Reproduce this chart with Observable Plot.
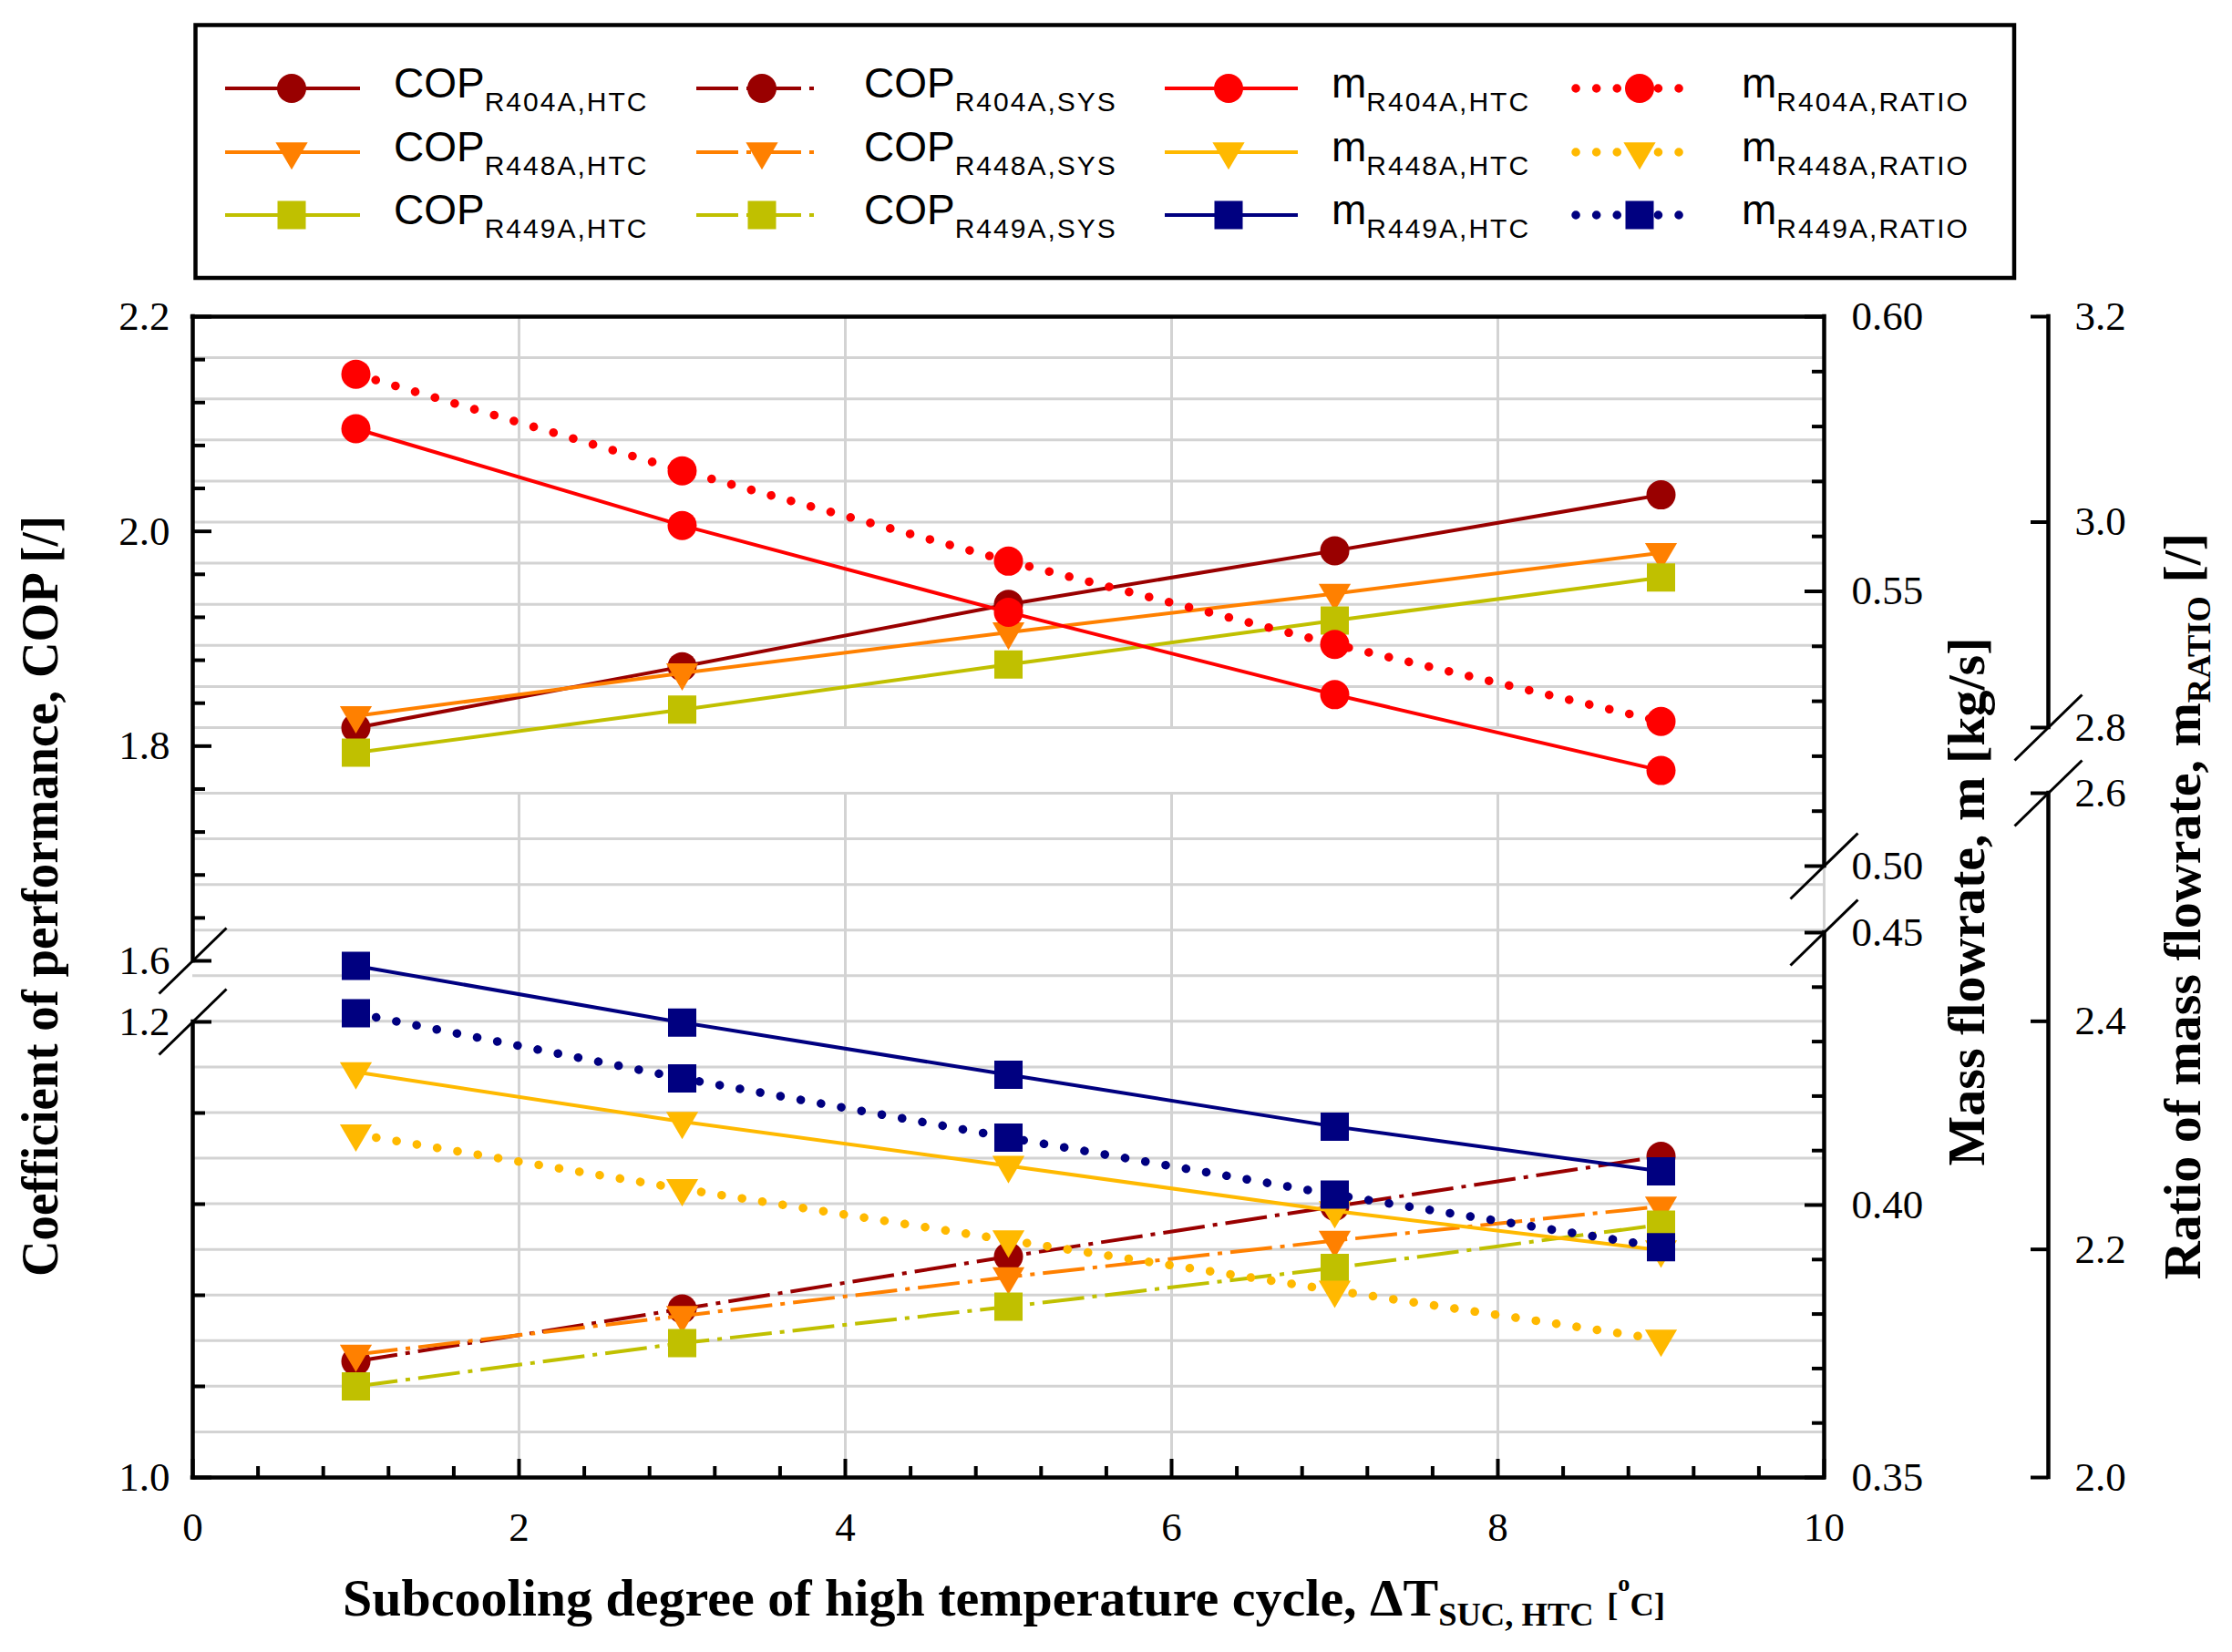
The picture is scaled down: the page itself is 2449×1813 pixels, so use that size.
<!DOCTYPE html>
<html>
<head>
<meta charset="utf-8">
<script src="https://cdn.jsdelivr.net/npm/d3@7"></script>
<script src="https://cdn.jsdelivr.net/npm/@observablehq/plot@0.6"></script>
<style>
  html, body { margin: 0; padding: 0; background: #ffffff; }
  #wrap { position: relative; width: 2449px; height: 1813px; overflow: hidden; background: #fff; }
  #legend { position: absolute; left: 0; top: 0; pointer-events: none; }
</style>
</head>
<body>
<div id="wrap"></div>
<script>
// ---------------- data ----------------
const subcooling = [1, 3, 5, 7, 9];

const copHTC_R404A = [1.817, 1.874, 1.932, 1.982, 2.034];
const copHTC_R448A = [1.828, 1.868, 1.906, 1.942, 1.980];
const copHTC_R449A = [1.794, 1.834, 1.876, 1.917, 1.957];

const copSYS_R404A = [1.051, 1.074, 1.097, 1.119, 1.141];
const copSYS_R448A = [1.054, 1.071, 1.088, 1.104, 1.119];
const copSYS_R449A = [1.040, 1.059, 1.075, 1.092, 1.111];

const mHTC_R404A = [0.5796, 0.5620, 0.5462, 0.5312, 0.5174];
const mHTC_R448A = [0.4244, 0.4153, 0.4072, 0.3989, 0.3917];
const mHTC_R449A = [0.4439, 0.4335, 0.4239, 0.4144, 0.4062];

const mRATIO_R404A = [3.144, 3.050, 2.962, 2.881, 2.806];
const mRATIO_R448A = [2.301, 2.253, 2.208, 2.164, 2.121];
const mRATIO_R449A = [2.407, 2.350, 2.298, 2.248, 2.202];

// tick labels
const xTickLabels = [0, 2, 4, 6, 8, 10];
const copTickLabels = [1.0, 1.2, 1.6, 1.8, 2.0, 2.2];
const massTickLabels = [0.35, 0.40, 0.45, 0.50, 0.55, 0.60];
const ratioTickLabels = [2.0, 2.2, 2.4, 2.6, 2.8, 3.0, 3.2];

// titles
const titleX = "Subcooling degree of high temperature cycle, \u0394T_{SUC, HTC} ~{[}^{o}~{C]}";
const titleCOP = "Coefficient of performance, COP [/]";
const titleMass = "Mass flowrate, m [kg/s]";
const titleRatio = "Ratio of mass flowrate, m_{RATIO} [/]";

// ---------------- layout ----------------
const W = 2449, H = 1813;
const ML = 211, MR = 448, MT = 347, MB = 192;
const FH = H - MT - MB;          // frame height (px)
const FW = W - ML - MR;          // frame width (px)
const ux = FW / 10;              // px per x unit
const xRatioAxis = 10 + 246 / ux; // third axis position in x units

// broken axes: value -> px above the frame bottom (piecewise linear)
const copV = d3.scaleLinear([1.0, 1.2, 1.6, 2.2], [0, 500, 567, FH]);
const massV = d3.scaleLinear([0.35, 0.45, 0.50, 0.60], [0, 598, 671, FH]);
const ratioV = d3.scaleLinear([2.0, 2.6, 2.8, 3.2], [0, 751, 823, FH]);

// ticks
const near = (a, list) => list.some(b => Math.abs(a - b) < 1e-6);
const copMinor = [...d3.range(0, 6).map(i => 1.0 + i * 0.04), ...d3.range(0, 16).map(i => 1.6 + i * 0.04)]
  .filter(d => !near(d, copTickLabels));
const massMinor = [...d3.range(0, 11).map(i => 0.35 + i * 0.01), ...d3.range(0, 11).map(i => 0.50 + i * 0.01)]
  .filter(d => !near(d, massTickLabels));
const xMinor = d3.range(1, 25).map(i => i * 0.4).filter(d => Math.abs(d / 2 - Math.round(d / 2)) > 1e-6);
const ratioGrid = [...d3.range(1, 16).map(i => 2.0 + i * 0.04), ...d3.range(0, 10).map(i => 2.8 + i * 0.04)];

// ---------------- styles ----------------
const COL = {
  darkred: "#990000", orange: "#ff8000", olive: "#c0c000",
  red: "#ff0000", amber: "#ffb900", navy: "#000080"
};
const triangleDown = {
  draw(context, size) {
    const r = Math.sqrt(size / Math.PI);
    const w = 1.1 * r, h = 1.88 * r;
    context.moveTo(-w, -0.36 * h);
    context.lineTo(w, -0.36 * h);
    context.lineTo(0, 0.64 * h);
    context.closePath();
  }
};
const SYM = {
  circle: {plot: "circle", d3: d3.symbolCircle, r: 16},
  tri: {plot: triangleDown, d3: triangleDown, r: 16},
  square: {plot: "square", d3: d3.symbolSquare, r: 17.5}
};
const LINE = {
  solid: {strokeWidth: 4, strokeDasharray: null, strokeLinecap: "butt"},
  dashdot: {strokeWidth: 4, strokeDasharray: "46,9,5,9", strokeLinecap: "butt"},
  dotted: {strokeWidth: 9.5, strokeDasharray: "0.1,22.5", strokeLinecap: "round"}
};

const series = [
  {main: "COP", sub: "R404A,HTC", values: copHTC_R404A, scale: copV, color: COL.darkred, line: "solid", sym: "circle", col: 0, row: 0},
  {main: "COP", sub: "R448A,HTC", values: copHTC_R448A, scale: copV, color: COL.orange, line: "solid", sym: "tri", col: 0, row: 1},
  {main: "COP", sub: "R449A,HTC", values: copHTC_R449A, scale: copV, color: COL.olive, line: "solid", sym: "square", col: 0, row: 2},
  {main: "COP", sub: "R404A,SYS", values: copSYS_R404A, scale: copV, color: COL.darkred, line: "dashdot", sym: "circle", col: 1, row: 0},
  {main: "COP", sub: "R448A,SYS", values: copSYS_R448A, scale: copV, color: COL.orange, line: "dashdot", sym: "tri", col: 1, row: 1},
  {main: "COP", sub: "R449A,SYS", values: copSYS_R449A, scale: copV, color: COL.olive, line: "dashdot", sym: "square", col: 1, row: 2},
  {main: "m", sub: "R404A,HTC", values: mHTC_R404A, scale: massV, color: COL.red, line: "solid", sym: "circle", col: 2, row: 0},
  {main: "m", sub: "R448A,HTC", values: mHTC_R448A, scale: massV, color: COL.amber, line: "solid", sym: "tri", col: 2, row: 1},
  {main: "m", sub: "R449A,HTC", values: mHTC_R449A, scale: massV, color: COL.navy, line: "solid", sym: "square", col: 2, row: 2},
  {main: "m", sub: "R404A,RATIO", values: mRATIO_R404A, scale: ratioV, color: COL.red, line: "dotted", sym: "circle", col: 3, row: 0},
  {main: "m", sub: "R448A,RATIO", values: mRATIO_R448A, scale: ratioV, color: COL.amber, line: "dotted", sym: "tri", col: 3, row: 1},
  {main: "m", sub: "R449A,RATIO", values: mRATIO_R449A, scale: ratioV, color: COL.navy, line: "dotted", sym: "square", col: 3, row: 2}
];

// ---------------- marks ----------------
const GRID = "#d3d3d3";
const AX = {stroke: "black", strokeWidth: 4.5, strokeLinecap: "square"};
const TK = {stroke: "black", strokeWidth: 4};
const SERIF = "'Liberation Serif', 'Times New Roman', serif";

const marks = [];

// grid
marks.push(Plot.ruleY(ratioGrid, {y: d => ratioV(d), stroke: GRID, strokeWidth: 3}));
const xGrid = xTickLabels.filter(d => d > 0 && d < 10);
marks.push(Plot.ruleX(xGrid, {x: d => d, y1: 0, y2: ratioV(2.6), stroke: GRID, strokeWidth: 3}));
marks.push(Plot.ruleX(xGrid, {x: d => d, y1: ratioV(2.8), y2: FH, stroke: GRID, strokeWidth: 3}));
marks.push(Plot.ruleX([10], {x: d => d, y1: massV(0.45), y2: massV(0.50), stroke: GRID, strokeWidth: 3}));

// frame / axes lines
marks.push(Plot.ruleY([0, FH], {y: d => d, ...AX}));
marks.push(Plot.ruleX([0], {x: d => d, y1: 0, y2: copV(1.2), ...AX}));
marks.push(Plot.ruleX([0], {x: d => d, y1: copV(1.6), y2: FH, ...AX}));
marks.push(Plot.ruleX([10], {x: d => d, y1: 0, y2: massV(0.45), ...AX}));
marks.push(Plot.ruleX([10], {x: d => d, y1: massV(0.50), y2: FH, ...AX}));
marks.push(Plot.ruleX([xRatioAxis], {x: d => d, y1: 0, y2: ratioV(2.6), ...AX}));
marks.push(Plot.ruleX([xRatioAxis], {x: d => d, y1: ratioV(2.8), y2: FH, ...AX}));

// ticks (inward)
marks.push(Plot.ruleY(copMinor, {y: d => copV(d), x1: 0, x2: 14 / ux, ...TK}));
marks.push(Plot.ruleY(copTickLabels, {y: d => copV(d), x1: 0, x2: 21 / ux, ...TK}));
marks.push(Plot.ruleY(massMinor, {y: d => massV(d), x1: 10 - 13 / ux, x2: 10, ...TK}));
marks.push(Plot.ruleY(massTickLabels, {y: d => massV(d), x1: 10 - 21 / ux, x2: 10, ...TK}));
marks.push(Plot.ruleY(ratioTickLabels, {y: d => ratioV(d), x1: xRatioAxis - 19 / ux, x2: xRatioAxis, ...TK}));
marks.push(Plot.ruleX(xMinor, {x: d => d, y1: 0, y2: 12, ...TK}));
marks.push(Plot.ruleX(xTickLabels, {x: d => d, y1: 0, y2: 20, ...TK}));

// axis breaks
const breaks = [
  {x: 0, v: copV(1.2)}, {x: 0, v: copV(1.6)},
  {x: 10, v: massV(0.45)}, {x: 10, v: massV(0.50)},
  {x: xRatioAxis, v: ratioV(2.6)}, {x: xRatioAxis, v: ratioV(2.8)}
];
marks.push(Plot.link(breaks, {
  x1: d => d.x - 37 / ux, y1: d => d.v - 36, x2: d => d.x + 37 / ux, y2: d => d.v + 36,
  stroke: "black", strokeWidth: 3
}));

// tick labels
const LBL = {fontSize: 45, fontFamily: SERIF, fill: "black"};
marks.push(Plot.text(copTickLabels, {x: 0, y: d => copV(d), text: d => d.toFixed(1), dx: -25, textAnchor: "end", ...LBL}));
marks.push(Plot.text(massTickLabels, {x: 10, y: d => massV(d), text: d => d.toFixed(2), dx: 30, textAnchor: "start", ...LBL}));
marks.push(Plot.text(ratioTickLabels, {x: xRatioAxis, y: d => ratioV(d), text: d => d.toFixed(1), dx: 29, textAnchor: "start", ...LBL}));
marks.push(Plot.text(xTickLabels, {x: d => d, y: 0, text: d => String(d), dy: 55, ...LBL}));

// axis titles
const TTL = {fontSize: 58, fontWeight: "bold", fontFamily: SERIF, fill: "black", text: d => d,
  textAnchor: "middle", lineAnchor: "middle"};
marks.push(Plot.text([titleX], {frameAnchor: "bottom", dx: -5, dy: 133, ...TTL}));
marks.push(Plot.text([titleCOP], {frameAnchor: "left", dx: -167, dy: -1, rotate: -90, ...TTL}));
marks.push(Plot.text([titleMass], {frameAnchor: "right", dx: 157, dy: 5, rotate: -90, ...TTL}));
marks.push(Plot.text([titleRatio], {frameAnchor: "right", dx: 394, dy: 10, rotate: -90, ...TTL}));

// data
for (const s of series) {
  const rows = subcooling.map((x, i) => ({x, value: s.values[i]}));
  const L = LINE[s.line];
  marks.push(Plot.line(rows, {
    x: "x", y: d => s.scale(d.value), stroke: s.color,
    strokeWidth: L.strokeWidth, strokeDasharray: L.strokeDasharray, strokeLinecap: L.strokeLinecap
  }));
  marks.push(Plot.dot(rows, {
    x: "x", y: d => s.scale(d.value), symbol: SYM[s.sym].plot, r: SYM[s.sym].r,
    fill: s.color, stroke: "none"
  }));
}

const chart = Plot.plot({
  width: W, height: H,
  marginLeft: ML, marginRight: MR, marginTop: MT, marginBottom: MB,
  x: {domain: [0, 10], axis: null},
  y: {domain: [0, FH], axis: null},
  style: {background: "white", fontFamily: SERIF, overflow: "visible"},
  marks
});
const wrap = document.getElementById("wrap");
wrap.appendChild(chart);

// rich text: _{sub}  ^{sup}  ~{small}
function richify(root) {
  const NS = "http://www.w3.org/2000/svg";
  root.querySelectorAll("text").forEach(t => {
    const s = t.textContent;
    if (!/[_^~]\{/.test(s)) return;
    const fs = parseFloat(getComputedStyle(t).fontSize);
    t.textContent = "";
    t.style.whiteSpace = "pre";
    let cur = 0;
    for (const part of s.split(/([_^~]\{[^}]*\})/)) {
      if (!part) continue;
      const m = /^([_^~])\{([^}]*)\}$/.exec(part);
      const span = document.createElementNS(NS, "tspan");
      let shift = 0, size = fs, txt = part;
      if (m) {
        txt = m[2];
        if (m[1] === "_") { shift = 0.19 * fs; size = 0.63 * fs; }
        else if (m[1] === "^") { shift = -0.46 * fs; size = 0.45 * fs; }
        else { shift = 0; size = 0.63 * fs; }
      }
      span.setAttribute("dy", shift - cur);
      cur = shift;
      span.setAttribute("font-size", size);
      span.textContent = txt;
      t.appendChild(span);
    }
  });
}
richify(chart);
chart.querySelectorAll("text").forEach(t => {
  if (t.textContent.startsWith("Coefficient")) {
    t.setAttribute("textLength", 835);
    t.setAttribute("lengthAdjust", "spacingAndGlyphs");
  }
});

// ---------------- legend ----------------
const lg = d3.create("svg").attr("id", "legend").attr("width", W).attr("height", 330);
lg.append("rect")
  .attr("x", 214.5).attr("y", 27.5).attr("width", 1995.5).attr("height", 277.5)
  .attr("fill", "none").attr("stroke", "black").attr("stroke-width", 4.5);
const legCols = [
  {x0: 247, x1: 395, mx: 320, tx: 432},
  {x0: 764, x1: 902, mx: 836, tx: 948},
  {x0: 1278, x1: 1424, mx: 1348, tx: 1461},
  {x0: 1729, x1: 1864, mx: 1799, tx: 1911}
];
const legRows = [97, 167, 236];
for (const s of series) {
  const c = legCols[s.col], y = legRows[s.row], L = LINE[s.line];
  lg.append("line")
    .attr("x1", c.x0).attr("x2", c.x1).attr("y1", y).attr("y2", y)
    .attr("stroke", s.color).attr("stroke-width", L.strokeWidth)
    .attr("stroke-dasharray", L.strokeDasharray).attr("stroke-linecap", L.strokeLinecap);
  const S = SYM[s.sym];
  lg.append("path")
    .attr("d", d3.symbol(S.d3, S.r * S.r * Math.PI)())
    .attr("transform", `translate(${c.mx},${y})`)
    .attr("fill", s.color);
  const t = lg.append("text")
    .attr("x", c.tx).attr("y", y + 10)
    .attr("font-family", "'Liberation Sans', Arial, sans-serif")
    .attr("font-size", 46).attr("fill", "black");
  t.append("tspan").text(s.main);
  t.append("tspan").attr("dy", 15).attr("font-size", 30).attr("letter-spacing", 2).text(s.sub);
}
wrap.appendChild(lg.node());
</script>
</body>
</html>
